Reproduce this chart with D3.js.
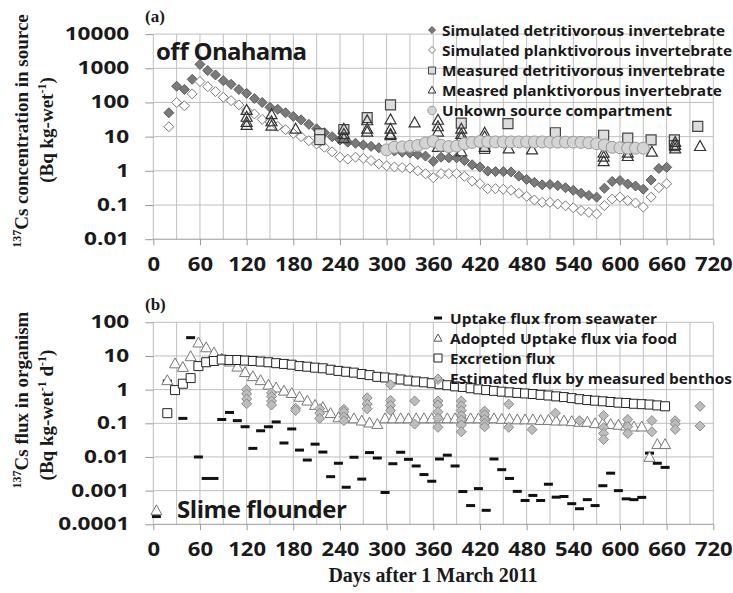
<!DOCTYPE html>
<html>
<head>
<meta charset="utf-8">
<script src="https://cdn.jsdelivr.net/npm/d3@7"></script>
<style>
  body { margin: 0; background: #fff; }
  svg text { font-family: "Open Sans", sans-serif; font-weight: bold; fill: #1a1a1a; }
  svg text.serif { font-family: "Liberation Serif", "Times New Roman", serif; }
</style>
</head>
<body>
<div id="chart"></div>
<script>
// ---------- panel (a): 137Cs in source ----------
const simDays = d3.range(20, 661, 10);
const simDetritivorous = [50, 300, 240, 475, 1300, 860, 640, 435, 340, 240,
  185, 130, 100, 72, 63, 50, 39, 31, 23, 17,
  13, 10, 8, 6.9, 6.4, 5.7, 5.2, 4.7, 4.2, 3.8,
  3.5, 3.3, 3.0, 2.7, 1.9, 2.5, 2.4, 2.4, 2.0, 1.5,
  1.3, 0.98, 0.95, 0.95, 0.93, 0.7, 0.56, 0.46, 0.39, 0.40,
  0.37, 0.32, 0.27, 0.22, 0.19, 0.17, 0.31, 0.49, 0.52, 0.41,
  0.36, 0.29, 0.54, 1.17, 1.27];
const simPlanktivorous = [19.5, 100, 80, 178, 410, 290, 208, 142, 113, 85,
  60, 46, 32, 27, 20, 16, 12.5, 10, 7.6, 6.1,
  4.9, 3.6, 2.5, 2.2, 2.5, 2.3, 2.0, 1.6, 1.4, 1.3,
  1.25, 1.2, 1.0, 0.82, 0.63, 0.83, 0.83, 0.83, 0.69, 0.5,
  0.42, 0.3, 0.3, 0.29, 0.27, 0.22, 0.18, 0.14, 0.12, 0.12,
  0.107, 0.095, 0.083, 0.069, 0.061, 0.055, 0.096, 0.15, 0.17, 0.135,
  0.115, 0.087, 0.17, 0.32, 0.42];

const measDetDays = [214, 214, 245, 275, 305, 396, 426, 456, 517, 579, 610, 640, 670, 670, 700];
const measDetVals = [12, 8.2, 16, 36, 85, 25, 4.5, 24, 13, 11, 9, 8, 8, 5.5, 20];

const measPlankDays = [120, 120, 120, 120, 152, 152, 152, 183, 245, 245, 245,
  275, 275, 275, 305, 305, 305, 305, 336, 366, 366, 366, 366,
  396, 396, 396, 396, 426, 426, 426, 457, 487, 579, 579, 579,
  610, 610, 641, 671, 671, 671, 703];
const measPlankVals = [60, 38, 27, 22, 45, 28, 21, 17, 17, 12, 9,
  30, 17, 14, 32, 17, 12, 11, 26, 31, 20, 14, 5,
  17, 12, 9.5, 3.7, 13, 10, 5, 4.5, 4.2, 3.4, 2.6, 1.9,
  3.4, 2.7, 3.6, 7, 5.7, 4.5, 5.3];

const unknownDays = d3.range(300, 631, 10);
const unknownVals = [4.1, 4.9, 5.0, 5.2, 5.5, 6.5, 7.3, 5.6, 5.1, 5.3,
  6.2, 6.8, 7.2, 7.1, 7.0, 7.0, 7.0, 7.0, 7.0, 7.0,
  7.0, 6.9, 6.9, 6.9, 6.9, 6.8, 6.6, 6.2, 5.7, 4.9,
  4.7, 4.6, 4.6, 4.6];

// ---------- panel (b): 137Cs flux in organism ----------
const fluxDays = d3.range(18, 659, 10);
const seawaterDays = [4].concat(fluxDays);
const seawaterVals = [0.00017, 1.8, 1.17, 0.14, 35, 0.01, 0.0023, 0.0023, 0.13, 0.21, 0.12,
  0.079, 0.018, 0.06, 0.079, 0.11, 0.026, 0.068, 0.016, 0.0081, 0.024,
  0.014, 0.0026, 0.0065, 0.00126, 0.0098, 0.0022, 0.0135, 0.0093, 0.00088, 0.0063,
  0.0138, 0.0085, 0.0054, 0.003, 0.0019, 0.0087, 0.0113, 0.0054, 0.00094, 0.00036,
  0.00115, 0.00026, 0.0087, 0.0042, 0.0023, 0.00095, 0.00051, 0.00072, 0.00051, 0.00155,
  0.00064, 0.00067, 0.00041, 0.00029, 0.00054, 0.00036, 0.0014, 0.0033, 0.001, 0.00057,
  0.00054, 0.00063, 0.013, 0.0065, 0.0049];
const foodDays = [4].concat(fluxDays);
const foodVals = [0.00026, 1.9, 6.0, 4.7, 9.8, 25, 18, 12.6, 8.3, 6.8, 4.8,
  3.3, 2.5, 1.9, 1.4, 1.15, 0.93, 0.79, 0.61, 0.47, 0.35,
  0.3, 0.2, 0.15, 0.15, 0.14, 0.12, 0.105, 0.095, 0.14, 0.14,
  0.14, 0.14, 0.14, 0.14, 0.14, 0.14, 0.14, 0.14, 0.14, 0.14,
  0.14, 0.14, 0.14, 0.135, 0.135, 0.13, 0.13, 0.13, 0.125, 0.125,
  0.12, 0.12, 0.115, 0.11, 0.11, 0.1, 0.1, 0.095, 0.09, 0.085,
  0.08, 0.08, 0.010, 0.024, 0.024];
const excretionVals = [0.2, 0.97, 1.5, 2.2, 5.0, 6.5, 7.1, 7.8, 7.6, 7.6,
  7.3, 7.1, 6.8, 6.5, 6.1, 5.8, 5.5, 5.0, 4.8, 4.5,
  4.3, 3.9, 3.6, 3.4, 3.2, 2.9, 2.7, 2.4, 2.3, 2.15,
  2.0, 1.85, 1.75, 1.65, 1.55, 1.45, 1.35, 1.25, 1.2, 1.1,
  1.02, 0.97, 0.92, 0.87, 0.83, 0.8, 0.77, 0.74, 0.7, 0.67,
  0.63, 0.6, 0.56, 0.52, 0.49, 0.47, 0.45, 0.43, 0.41, 0.4,
  0.38, 0.37, 0.36, 0.34, 0.32];

const benthosDays = [120, 120, 120, 120, 152, 152, 152, 152, 183, 183, 214, 214, 214,
  245, 245, 245, 245, 275, 275, 275, 305, 305, 305, 305, 336, 336,
  366, 366, 366, 366, 366, 366, 396, 396, 396, 396, 396, 396, 396,
  426, 426, 426, 426, 426, 457, 457, 487, 517, 548, 579, 579, 579, 579,
  610, 610, 610, 641, 641, 671, 671, 671, 703, 703];
const benthosVals = [1.0, 0.75, 0.53, 0.38, 0.8, 0.62, 0.46, 0.35, 0.28, 0.24, 0.27, 0.2, 0.14,
  0.26, 0.22, 0.155, 0.12, 0.57, 0.37, 0.27, 1.4, 0.48, 0.34, 0.24, 0.46, 0.095,
  2.0, 0.46, 0.35, 0.22, 0.14, 0.076, 0.46, 0.33, 0.24, 0.17, 0.126, 0.089, 0.056,
  0.23, 0.18, 0.13, 0.1, 0.079, 0.37, 0.076, 0.065, 0.2, 0.12, 0.17, 0.075, 0.05, 0.033,
  0.13, 0.079, 0.05, 0.12, 0.056, 0.12, 0.095, 0.066, 0.32, 0.083];

// ---------- axes ----------
const dayTicks = d3.range(0, 721, 60);
const dayGrid = d3.range(0, 721, 30);
const ticksA = [0.01, 0.1, 1, 10, 100, 1000, 10000];
const ticksB = [0.0001, 0.001, 0.01, 0.1, 1, 10, 100];
const tickLabelsA = ["0.01", "0.1", "1", "10", "100", "1000", "10000"];
const tickLabelsB = ["0.0001", "0.001", "0.01", "0.1", "1", "10", "100"];

const svg = d3.select("#chart").append("svg").attr("width", 733).attr("height", 593);

const xScale = d3.scaleLinear().domain([0, 720]).range([153.3, 713.3]);
const yA = d3.scaleLog().domain([0.01, 10000]).range([239.2, 34.1]);
const yB = d3.scaleLog().domain([0.0001, 100]).range([524.3, 322.3]);

// marker paths, r = half size
const shape = {
  diamond: (r) => `M0,${-r}L${r},0L0,${r}L${-r},0Z`,
  square: (r) => `M${-r},${-r}h${2 * r}v${2 * r}h${-2 * r}Z`,
  triangle: (r) => `M0,${-r}L${r},${r * 0.8}L${-r},${r * 0.8}Z`,
  circle: (r) => `M${-r},0a${r},${r} 0 1,0 ${2 * r},0a${r},${r} 0 1,0 ${-2 * r},0Z`,
  dash: (r) => `M${-r},-1.5h${2 * r}v3h${-2 * r}Z`
};

// the source font is wider than Open Sans, stretch the glyphs a bit
function stretch(sel, k) {
  sel.each(function () {
    const w = this.getComputedTextLength();
    d3.select(this).attr("textLength", w * k).attr("lengthAdjust", "spacingAndGlyphs");
  });
}

// draws grid + axes for one panel
function drawFrame(y, ticks, labels) {
  const [y0, y1] = y.range();
  const g = svg.append("g");

  g.selectAll(".vgrid").data(dayGrid).enter().append("line")
    .attr("x1", (d) => xScale(d)).attr("x2", (d) => xScale(d))
    .attr("y1", y1).attr("y2", y0)
    .attr("stroke", "#bfbfbf").attr("stroke-width", 1);

  g.selectAll(".hgrid").data(ticks).enter().append("line")
    .attr("x1", xScale(0)).attr("x2", xScale(720))
    .attr("y1", (d) => y(d)).attr("y2", (d) => y(d))
    .attr("stroke", (d, i) => (i === 0 ? "#999" : "#bfbfbf")).attr("stroke-width", 1);

  const xAxis = d3.axisBottom(xScale).tickValues(dayTicks).tickSize(6).tickSizeOuter(0);
  const gx = g.append("g").attr("transform", `translate(0, ${y0})`).call(xAxis);
  gx.select(".domain").remove();
  gx.selectAll("line").attr("stroke", "#999");
  gx.selectAll("text").attr("dy", null).attr("y", 32)
    .style("font-family", '"Open Sans", sans-serif').style("font-size", "19.5px")
    .call(stretch, 1.13);

  const yAxis = d3.axisLeft(y).tickValues(ticks)
    .tickFormat((d, i) => labels[i]).tickSize(8).tickPadding(16);
  const gy = g.append("g").attr("transform", `translate(${xScale(0)}, 0)`).call(yAxis);
  gy.select(".domain").remove();
  gy.selectAll("line").attr("stroke", "#999");
  gy.selectAll("text")
    .style("font-family", '"Open Sans", sans-serif').style("font-size", "17px")
    .call(stretch, 1.33);
}

// draws one series of markers
function drawSeries(y, days, vals, path, fill, stroke, sw) {
  svg.append("g").selectAll("path").data(vals).enter().append("path")
    .attr("d", path)
    .attr("transform", (d, i) => `translate(${xScale(days[i])}, ${y(d)})`)
    .attr("fill", fill).attr("stroke", stroke).attr("stroke-width", sw);
}

function legendRow(x, y, path, fill, stroke, sw, label, tx, len) {
  svg.append("path").attr("d", path)
    .attr("transform", `translate(${x}, ${y})`)
    .attr("fill", fill).attr("stroke", stroke).attr("stroke-width", sw);
  svg.append("text").attr("x", tx).attr("y", y + 5.5)
    .attr("textLength", len).attr("lengthAdjust", "spacingAndGlyphs")
    .style("font-size", "15px").text(label);
}

// ---- panel (a) ----
drawFrame(yA, ticksA, tickLabelsA);
drawSeries(yA, simDays, simDetritivorous, shape.diamond(5), "#7a7a7a", "#5a5a5a", 1);
drawSeries(yA, simDays, simPlanktivorous, shape.diamond(5), "#fff", "#7a7a7a", 1);
drawSeries(yA, measDetDays, measDetVals, shape.square(5), "#dcdcdc", "#444", 1.2);
drawSeries(yA, measPlankDays, measPlankVals, shape.triangle(5.5), "none", "#333", 1.2);
drawSeries(yA, unknownDays, unknownVals, shape.circle(6), "#d4d4d4", "#999", 1);

legendRow(432, 30, shape.diamond(3.5), "#7a7a7a", "#5a5a5a", 1, "Simulated detritivorous invertebrate", 442, 283);
legendRow(432, 50, shape.diamond(3.5), "#fff", "#7a7a7a", 1, "Simulated planktivorous invertebrate", 442, 290);
legendRow(432, 70.5, shape.square(3.5), "#dcdcdc", "#444", 1, "Measured detritivorous invertebrate", 442, 283);
legendRow(432, 90, shape.triangle(3.8), "none", "#333", 1, "Measred planktivorous invertebrate", 442, 280);
legendRow(432, 110.5, shape.circle(4.2), "#d4d4d4", "#999", 1, "Unkown source compartment", 442, 230);

svg.append("text").attr("x", 156).attr("y", 60).attr("textLength", 151)
  .style("font-size", "24px").text("off Onahama");
svg.append("text").attr("class", "serif").attr("x", 145).attr("y", 22)
  .style("font-size", "17px").text("(a)");

// ---- panel (b) ----
drawFrame(yB, ticksB, tickLabelsB);
drawSeries(yB, seawaterDays, seawaterVals, shape.dash(4.5), "#111", "none", 0);
drawSeries(yB, foodDays, foodVals, shape.triangle(5.5), "#fff", "#777", 1);
drawSeries(yB, fluxDays, excretionVals, shape.square(4.5), "#fff", "#222", 1);
drawSeries(yB, benthosDays, benthosVals, shape.diamond(5), "#bdbdbd", "#8a8a8a", 1);

legendRow(438, 318, shape.dash(4), "#111", "none", 0, "Uptake flux from seawater", 450, 207);
legendRow(438, 338, shape.triangle(4), "#fff", "#555", 1, "Adopted Uptake flux via food", 450, 227);
legendRow(438, 358, shape.square(4), "#fff", "#222", 1, "Excretion flux", 450, 105);
legendRow(438, 378, shape.diamond(4), "#bdbdbd", "#8a8a8a", 1, "Estimated flux by measured benthos", 450, 282);

svg.append("text").attr("x", 177).attr("y", 518).attr("textLength", 170)
  .style("font-size", "24px").text("Slime flounder");
svg.append("text").attr("class", "serif").attr("x", 145).attr("y", 310)
  .style("font-size", "17px").text("(b)");

// ---- axis titles ----
function yTitle(cx, cy, parts) {
  const t = svg.append("text").attr("class", "serif")
    .attr("transform", `translate(${cx}, ${cy}) rotate(-90)`)
    .attr("text-anchor", "middle").style("font-size", "19px");
  parts.forEach((p) => {
    t.append("tspan").style("font-size", p.sup ? "12px" : "19px")
      .attr("dy", p.sup ? -7 : p.down ? 7 : 0).text(p.s);
  });
}
yTitle(28, 131, [{ s: "137", sup: true }, { s: "Cs concentration in source", down: true }]);
yTitle(53, 130, [{ s: "(Bq kg-wet" }, { s: "-1", sup: true }, { s: ")", down: true }]);
yTitle(28, 400, [{ s: "137", sup: true }, { s: "Cs flux in organism", down: true }]);
yTitle(53, 415, [{ s: "(Bq kg-wet" }, { s: "-1", sup: true }, { s: " d", down: true },
  { s: "-1", sup: true }, { s: ")", down: true }]);

svg.append("text").attr("class", "serif").attr("x", 433).attr("y", 582)
  .attr("text-anchor", "middle").style("font-size", "20px").text("Days after 1 March 2011");
</script>
</body>
</html>
